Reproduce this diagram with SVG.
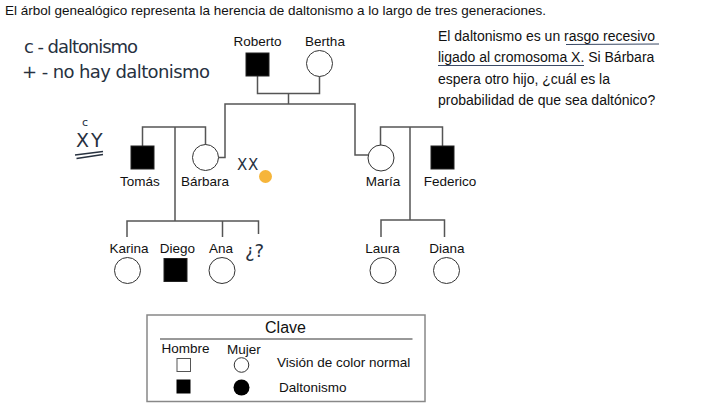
<svg xmlns="http://www.w3.org/2000/svg" width="720" height="405" viewBox="0 0 720 405">
<style>
text{font-family:"Liberation Sans",Arial,sans-serif;fill:#111}
.lbl{font-size:13.5px;text-anchor:middle}
.hw{font-family:"DejaVu Sans","Liberation Sans",sans-serif;fill:#27313f}
.con{fill:none;stroke:#555;stroke-width:1.5}
.f{fill:#fff;stroke:#333;stroke-width:1}
.a{fill:#000;stroke:#222;stroke-width:1}
</style>
<rect width="720" height="405" fill="#fff"/>
<text x="5" y="15" style="font-size:13.5px">El árbol genealógico representa la herencia de daltonismo a lo largo de tres generaciones.</text>

<g id="notes">
<text class="hw" x="24" y="53" style="font-size:18px" textLength="114">c - daltonismo</text>
<text class="hw" x="22" y="78" style="font-size:18px" textLength="188">+ - no hay daltonismo</text>
<text class="hw" x="82" y="126" style="font-size:11px">c</text>
<text class="hw" x="76" y="147" style="font-size:19px">X</text>
<text class="hw" x="91" y="147" style="font-size:19px">Y</text>
<line x1="75" y1="155" x2="103" y2="151.5" stroke="#27313f" stroke-width="1.4"/>
<line x1="76.5" y1="158.5" x2="103" y2="154.5" stroke="#27313f" stroke-width="1.4"/>
<text class="hw" x="237" y="170" style="font-size:15px">X</text>
<text class="hw" x="248" y="170" style="font-size:15px">X</text>
<circle cx="265.5" cy="176.5" r="6.5" fill="#f6b53a"/>
<text class="hw" x="245" y="257" style="font-size:18px">¿?</text>
</g>

<g id="question">
<text x="438" y="41" style="font-size:14px">El daltonismo es un rasgo recesivo</text>
<text x="438" y="62" style="font-size:14px">ligado al cromosoma X. Si Bárbara</text>
<text x="438" y="83.5" style="font-size:14px">espera otro hijo, ¿cuál es la</text>
<text x="438" y="105" style="font-size:14px">probabilidad de que sea daltónico?</text>
<line x1="566" y1="44.5" x2="659" y2="44" stroke="#3b4a66" stroke-width="1.2"/>
<line x1="438" y1="65.5" x2="584" y2="65.5" stroke="#3b4a66" stroke-width="1.2"/>
</g>

<g id="connectors">
<polyline class="con" points="257.5,76 257.5,93.5 319.5,93.5 319.5,76.5"/>
<line class="con" x1="288.5" y1="93.5" x2="288.5" y2="104"/>
<polyline class="con" points="218.5,157.5 225,157.5 225,104 355,104 355,155 368,155"/>
<polyline class="con" points="142.5,146 142.5,127 205.5,127 205.5,145"/>
<line class="con" x1="175" y1="127" x2="175" y2="221"/>
<polyline class="con" points="127,237 127,221 258.5,221 258.5,234"/>
<line class="con" x1="222.5" y1="221" x2="222.5" y2="237"/>
<polyline class="con" points="380.5,145.5 380.5,127 442.5,127 442.5,146"/>
<line class="con" x1="410" y1="127" x2="410" y2="220"/>
<polyline class="con" points="381,237 381,220 444.5,220 444.5,237"/>
</g>

<g id="roberto"><rect class="a" x="246" y="53" width="23" height="23"/><text class="lbl" x="257.5" y="46">Roberto</text></g>
<g id="bertha"><circle class="f" cx="319.5" cy="63.5" r="13"/><text class="lbl" x="325" y="46">Bertha</text></g>
<g id="tomas"><rect class="a" x="131" y="146" width="23" height="23"/><text class="lbl" x="140" y="185.5">Tomás</text></g>
<g id="barbara"><circle class="f" cx="205.5" cy="157.5" r="13"/><text class="lbl" x="205" y="185.5">Bárbara</text></g>
<g id="maria"><circle class="f" cx="381" cy="158" r="13"/><text class="lbl" x="383" y="185.5">María</text></g>
<g id="federico"><rect class="a" x="431" y="146" width="23" height="23"/><text class="lbl" x="450" y="185.5">Federico</text></g>
<g id="karina"><text class="lbl" x="129" y="252.5">Karina</text><circle class="f" cx="127.5" cy="270.5" r="13"/></g>
<g id="diego"><text class="lbl" x="177.5" y="252.5">Diego</text><rect class="a" x="164" y="258.5" width="23" height="23"/></g>
<g id="ana"><text class="lbl" x="221" y="252.5">Ana</text><circle class="f" cx="222" cy="270.5" r="13"/></g>
<g id="laura"><text class="lbl" x="382.5" y="252.5">Laura</text><circle class="f" cx="383" cy="270.5" r="13"/></g>
<g id="diana"><text class="lbl" x="447" y="252.5">Diana</text><circle class="f" cx="446.5" cy="270.5" r="13"/></g>

<g id="legend">
<rect x="147" y="315" width="278" height="86.5" fill="#fff" stroke="#888" stroke-width="1.5"/>
<text x="285.5" y="333" style="font-size:16px;text-anchor:middle">Clave</text>
<line x1="160" y1="339" x2="412.5" y2="339" stroke="#333" stroke-width="1"/>
<text class="lbl" x="185.5" y="353">Hombre</text>
<text class="lbl" x="244" y="354">Mujer</text>
<rect x="177" y="358.5" width="13.5" height="13" fill="#fff" stroke="#555" stroke-width="1"/>
<circle cx="241.5" cy="365" r="7.3" fill="#fff" stroke="#333" stroke-width="1"/>
<text x="277" y="367" style="font-size:13.5px">Visión de color normal</text>
<rect x="176.5" y="379.5" width="14" height="14" fill="#000"/>
<circle cx="241.5" cy="387.5" r="8" fill="#000"/>
<text x="279" y="392" style="font-size:13.5px">Daltonismo</text>
</g>
</svg>
